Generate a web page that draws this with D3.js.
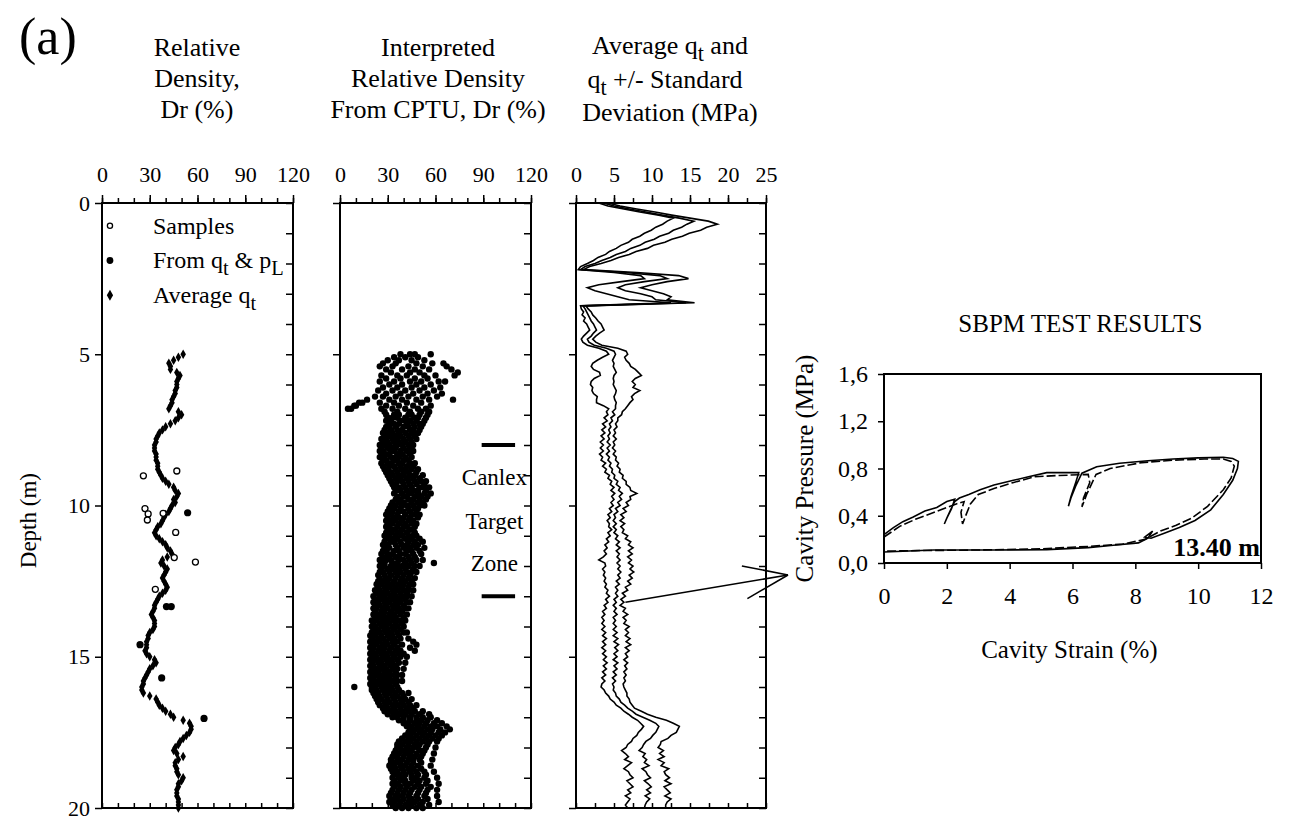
<!DOCTYPE html>
<html>
<head>
<meta charset="UTF-8"/>
<script src="https://d3js.org/d3.v7.min.js"></script>
<title>Canlex profile</title>
<style>
body { margin:0; background:#fff; }
text { font-family: "Liberation Serif", "Times New Roman", serif; fill:#000; }
.frame { fill:none; stroke:#000; stroke-width:2; }
.qline { fill:none; stroke:#000; stroke-width:1.6; }
</style>
</head>
<body>
<svg id="chart" width="1289" height="821"></svg>
<script>
'use strict';

// ---- axes / ticks
var depthTicks = [0, 5, 10, 15, 20];
var drTicks = [0, 30, 60, 90, 120];
var qtTicks = [0, 5, 10, 15, 20, 25];
var strainTicks = [0, 2, 4, 6, 8, 10, 12];
var pressTicks = [0, 0.4, 0.8, 1.2, 1.6];

// ---- panel 1 : relative density (depth m, Dr %)
// average qt points, every 0.1 m from 5.0 m
var avgQtStart = 5.0, avgQtStep = 0.1;
var avgQtDr = [
 "51 48 45 42 43 43 47 49 48 47",
 "47 47 46 46 45 44 44 43 42 48",
 "50 48 46 43 40 38 36 35 34 34",
 "33 33 33 34 34 34 35 35 35 36",
 "37 38 40 42 45 46 48 47 45 46",
 "44 43 42 40 39 38 37 35 34 33",
 "34 36 38 40 41 43 44 41 38 37",
 "39 41 40 39 38 39 40 41 40 38",
 "36 35 34 33 33 32 31 32 33 33",
 "33 32 30 29 29 28 28 28 27 28",
 "30 33 34 32 30 29 28 27 26 26",
 "25 25 26 30 34 35 36 38 40 43",
 "45 51 55 56 56 55 53 51 49 48",
 "46 45 47 51 48 46 46 47 47 48",
 "51 50 48 48 47 47 47 48 48 48",
 "48"];
var sampleDepth = [8.86, 9.02, 10.1, 10.28, 10.48, 10.26, 10.89, 11.72, 11.87, 12.77];
var sampleDr    = [47, 26, 27, 29, 28.5, 38.4, 46.3, 45.4, 58.7, 33.5];
var pLDepth = [10.24, 13.34, 13.34, 14.6, 15.7, 17.04];
var pLDr    = [53.8, 40.5, 43.5, 23.9, 37.5, 64.1];

// ---- panel 2 : Dr interpreted from CPTU ("depth  Dr Dr Dr ...")
var cptuRows = [
 "5.0 38 44 47 57", "5.1 34 41 49", "5.2 30 37 45 53",
 "5.3 27 35 48 58 65", "5.4 25 33 43 52 67", "5.5 29 39 47 56 70",
 "5.6 32 44 50 74", "5.7 26 36 42 53 60 72", "5.8 29 38 47 55",
 "5.9 25 34 44 51 62 66", "6.0 31 39 48 57", "6.1 27 36 45 53 63",
 "6.2 24 33 41 50 59", "6.3 29 38 46 55 64", "6.4 22 27 35 43 52 61",
 "6.5 17 31 39 48 56 71", "6.6 14 12 25 34 42 51", "6.7 9 10 29 37 46 57",
 "6.8 5 7 26 33 41 49 54", "6.9 28 36 44 51 56", "7.0 29 34 37 43 45 50 55",
 "7.1 30 33 36 41 47 49 54", "7.2 29 32 38 41 44 48 53", "7.3 31 34 37 42 46 50 52",
 "7.4 29 31 35 40 43 47 51", "7.5 28 32 36 39 44 46 50", "7.6 27 30 33 37 41 45 49",
 "7.7 28 31 35 38 43 47", "7.8 26 29 33 36 40 44 48", "7.9 27 30 34 37 41 45",
 "8.0 25 28 31 36 39 43 46", "8.1 26 30 33 35 40 44", "8.2 25 27 32 34 38 42 46",
 "8.3 26 29 31 36 39 44", "8.4 25 28 32 35 37 41 45", "8.5 27 29 34 36 40 43",
 "8.6 26 30 32 37 39 44 47", "8.7 27 31 34 38 42 46", "8.8 28 30 35 39 41 45 49",
 "8.9 29 32 36 40 43 48", "9.0 30 33 37 40 44 47 52", "9.1 31 35 38 42 46 50",
 "9.2 32 36 39 43 47 51 54", "9.3 33 35 40 44 48 53", "9.4 34 37 41 45 50 52 56",
 "9.5 35 38 42 46 49 54", "9.6 34 39 43 45 49 53 57", "9.7 36 40 42 47 51 55",
 "9.8 35 38 43 46 50 54", "9.9 33 37 40 45 49 52", "10.0 32 35 39 42 46 50 53",
 "10.1 31 34 38 43 47 49", "10.2 30 33 37 40 44 48", "10.3 29 32 36 41 45 47 50",
 "10.4 30 34 37 40 44 49", "10.5 29 32 35 39 43 46", "10.6 30 33 37 41 45 48",
 "10.7 29 31 36 40 42 47", "10.8 30 33 35 39 44 46", "10.9 29 32 36 38 42 47",
 "11.0 28 31 35 39 43 46 48", "11.1 29 33 36 41 45 50", "11.2 28 32 34 38 43 47 52",
 "11.3 27 30 35 39 42 46 49", "11.4 28 31 36 40 44 48 53", "11.5 27 29 34 37 42 45 50",
 "11.6 26 30 33 38 41 46 51", "11.7 27 31 35 37 43 47", "11.8 25 29 32 37 40 44 48 52",
 "11.9 26 28 33 36 41 45 59", "12.0 25 28 32 35 39 43 47 50", "12.1 26 30 33 37 41 46",
 "12.2 25 27 31 35 38 42 45 48", "12.3 24 28 32 36 40 44", "12.4 25 29 31 35 39 43 47",
 "12.5 24 27 30 34 38 41 45", "12.6 23 26 30 33 37 40 44 46", "12.7 24 28 31 35 39 43",
 "12.8 22 25 29 33 36 40 43 46", "12.9 23 27 30 34 38 42", "13.0 21 25 28 32 35 39 42 45",
 "13.1 22 26 29 33 37 41", "13.2 21 24 28 31 35 38 42 44", "13.3 22 25 29 33 36 40",
 "13.4 21 23 27 30 34 37 41 43", "13.5 22 26 28 32 36 39", "13.6 21 24 27 31 34 38 42",
 "13.7 22 25 29 32 35 40", "13.8 20 23 27 30 34 37 41", "13.9 21 25 28 31 35 39",
 "14.0 20 22 26 29 33 36 40", "14.1 21 24 28 30 34 38", "14.2 20 23 25 29 32 36 40 42",
 "14.3 19 22 26 30 33 37", "14.4 20 24 27 31 34 38 43", "14.5 19 22 25 29 33 36 46",
 "14.6 20 23 27 30 34 39 48", "14.7 19 21 25 28 32 36 44", "14.8 20 24 27 31 35 38 47",
 "14.9 19 22 26 29 33 37 40", "15.0 20 23 27 30 34 38 42", "15.1 19 22 25 29 32 36",
 "15.2 20 24 26 30 33 37 41", "15.3 19 21 25 28 32 35", "15.4 20 23 26 29 33 36 40",
 "15.5 19 22 24 28 31 35", "15.6 20 23 27 29 32 36 39", "15.7 19 21 25 28 31 35",
 "15.8 20 22 26 29 33 36 39", "15.9 19 23 25 28 31 35", "16.0 9 20 22 26 29 32 36",
 "16.1 20 23 27 30 33 37", "16.2 21 24 28 31 35 39 43", "16.3 22 25 29 33 36 40",
 "16.4 23 26 30 34 38 41 45", "16.5 24 28 31 35 39 43", "16.6 25 29 33 36 40 44 48",
 "16.7 27 30 34 38 42 46", "16.8 28 32 35 39 43 47 52", "16.9 30 34 37 41 45 50 56",
 "17.0 33 36 40 44 48 52 57", "17.1 37 40 44 48 51 55 61", "17.2 40 43 47 50 54 59 64",
 "17.3 42 45 49 53 57 61 67", "17.4 44 47 51 55 58 63 69", "17.5 43 46 50 53 57 62 66",
 "17.6 41 44 48 52 56 60 64", "17.7 39 43 46 50 54 58 62", "17.8 37 41 44 48 52 56 61",
 "17.9 36 39 43 47 50 55", "18.0 36 38 42 46 49 54 60", "18.1 35 39 42 45 50 53",
 "18.2 34 37 41 44 48 52 59", "18.3 33 36 40 44 47 51", "18.4 32 36 39 43 46 50 58",
 "18.5 32 35 38 42 46 51", "18.6 31 34 38 41 45 49 57", "18.7 32 35 39 43 46 51",
 "18.8 33 36 40 44 48 53 59", "18.9 34 37 41 45 49 54", "19.0 33 37 40 45 48 53 61",
 "19.1 34 38 41 46 50 55", "19.2 33 36 41 44 49 54 62", "19.3 34 38 42 47 51 57",
 "19.4 33 37 41 45 50 55 61", "19.5 32 36 40 44 49 54", "19.6 31 35 39 43 48 53 61",
 "19.7 32 36 40 45 49 55", "19.8 31 34 38 43 47 52 62", "19.9 33 37 41 45 50 56",
 "20.0 35 39 43 48 52"];
var zoneDepths = [8, 13];
var zoneDr = [89, 110];

// ---- panel 3 : qt (MPa), every 0.1 m from 0 m
var qtStep = 0.1;
var qtLow = [
 "3.0 4.2 6.3 8.4 10.9 12.8 12.0 11.4 10.5 9.9",
 "9.0 8.4 7.4 6.9 5.9 5.3 4.4 3.9 2.9 2.3",
 "1.5 0.6 0.3 5.0 8.5 9.0 6.0 3.0 1.5 2.5",
 "4.0 5.5 7.0 12.5 0.6 0.7 1.0 0.8 1.2 1.0",
 "1.4 1.6 1.8 1.4 1.0 0.7 0.9 1.5 3.0 4.0",
 "4.3 3.5 2.8 2.2 2.0 2.3 3.1 3.2 2.4 2.0",
 "1.9 2.2 2.1 2.3 2.8 2.7 2.7 3.6 4.3 4.0",
 "4.2 3.7 4.1 3.5 3.9 3.4 3.8 3.3 3.7 3.2",
 "3.6 3.2 3.6 3.1 3.5 3.3 3.9 3.5 4.0 3.8",
 "4.4 4.2 4.7 4.5 5.0 4.6 5.1 4.7 5.0 4.6",
 "4.9 4.4 4.7 4.2 4.5 4.1 4.4 4.3 4.7 4.2",
 "4.5 4.0 4.3 3.8 4.1 3.7 4.0 3.6 3.0 3.8",
 "3.9 3.5 3.8 3.6 3.9 3.7 4.0 3.8 4.2 4.0",
 "4.4 3.9 4.2 3.7 4.0 3.5 3.8 3.4 3.7 3.4",
 "3.8 3.4 3.9 3.5 4.0 3.5 3.9 3.4 3.9 3.5",
 "4.0 3.6 4.1 3.6 4.0 3.5 3.9 3.4 3.8 3.4",
 "3.3 3.7 3.9 4.3 4.5 5.0 5.3 5.9 6.3 6.9",
 "7.4 8.1 8.5 8.9 8.6 8.2 8.0 7.5 7.3 6.8",
 "6.6 6.0 6.5 6.9 6.4 7.3 6.8 6.3 6.9 7.1",
 "7.5 6.7 7.1 7.5 6.8 7.2 6.5 7.1 6.8 6.5",
 "6.8"];
var qtMean = [
 "3.6 5.0 7.0 9.2 11.3 13.6 15.5 14.6 13.9 12.8",
 "12.2 11.0 10.3 9.1 8.4 7.2 6.5 5.3 4.5 3.4",
 "2.5 1.2 0.6 6.5 11.0 12.0 9.0 6.5 5.5 6.5",
 "8.5 10.0 10.5 14.5 0.9 1.2 1.4 1.6 1.8 2.0",
 "2.3 2.5 2.7 2.3 2.0 1.5 1.7 2.4 4.0 5.0",
 "5.2 5.0 4.8 5.0 4.9 5.1 5.3 5.0 4.9 5.0",
 "4.9 5.1 5.3 5.2 5.0 5.1 5.3 5.2 5.2 4.8",
 "5.1 4.6 4.8 4.4 4.6 4.3 4.5 4.2 4.4 4.1",
 "4.5 4.1 4.4 4.0 4.4 4.2 4.6 4.4 4.8 4.7",
 "5.1 5.0 5.5 5.3 5.8 5.6 6.1 5.7 6.0 5.5",
 "5.8 5.2 5.5 5.0 5.2 4.9 5.3 4.9 5.3 5.0",
 "5.5 5.2 5.7 5.3 5.8 5.3 5.7 5.4 5.8 5.4",
 "5.8 5.5 5.9 5.5 5.8 5.3 5.7 5.2 5.5 5.2",
 "5.5 5.0 5.3 4.9 5.3 5.0 5.4 4.9 5.2 4.9",
 "5.3 4.9 5.4 4.9 5.5 5.0 5.6 5.1 5.5 5.0",
 "5.4 4.9 5.5 5.0 5.4 4.9 5.3 4.8 5.2 4.8",
 "5.0 4.9 5.2 5.3 5.7 5.9 6.4 6.8 7.4 7.9",
 "8.8 9.7 10.5 10.9 10.7 10.5 10.1 9.8 9.2 8.9",
 "8.7 8.3 9.1 8.8 9.3 9.0 9.6 8.7 9.2 9.4",
 "9.8 9.0 9.5 9.9 9.3 9.8 9.1 9.7 9.3 9.1",
 "9.0"];
var qtHigh = [
 "4.2 5.8 8.0 10.4 12.6 15.0 17.4 18.6 17.2 16.4",
 "14.9 14.0 12.6 11.7 10.2 9.4 7.9 7.0 5.6 4.6",
 "3.3 1.8 1.0 8.0 13.5 14.8 12.0 10.0 8.5 10.0",
 "11.5 12.5 12.0 15.6 1.3 1.6 2.0 2.2 2.6 2.9",
 "3.3 3.5 3.7 3.1 2.6 2.2 2.6 3.4 5.5 6.6",
 "6.8 6.4 6.6 7.0 7.2 7.8 8.2 8.6 7.8 7.4",
 "7.8 7.5 8.4 7.7 7.3 7.5 7.1 6.8 6.5 6.1",
 "6.0 5.5 5.5 5.2 5.4 5.0 5.2 4.9 5.3 4.9",
 "5.1 4.8 5.2 4.9 5.3 5.2 5.6 5.4 5.8 5.7",
 "6.2 6.1 6.6 6.6 7.1 7.2 8.0 7.1 7.2 6.6",
 "6.9 6.2 6.6 5.9 6.3 5.8 6.4 5.9 6.3 6.1",
 "6.8 6.5 7.2 6.9 7.5 6.9 7.4 6.8 7.3 6.9",
 "7.5 7.1 7.6 7.0 7.4 6.8 7.2 6.5 6.8 6.1",
 "6.5 5.9 6.3 5.8 6.5 6.2 6.8 6.2 6.6 6.3",
 "7.0 6.5 6.9 6.5 7.1 6.6 7.2 6.5 7.0 6.5",
 "6.8 6.3 6.8 6.4 6.7 6.3 6.6 6.3 6.5 6.2",
 "6.3 6.5 6.7 6.7 7.0 7.1 7.4 7.7 8.6 9.4",
 "10.5 11.9 12.8 13.6 13.4 13.2 12.5 12.1 11.2 11.1",
 "10.8 11.5 11.0 11.6 10.8 11.6 11.2 12.2 11.6 11.8",
 "12.3 11.7 12.5 11.6 12.0 12.4 11.7 12.5 12.0 11.8",
 "11.8"];
var sbpmDepth = 13.2, sbpmQt = 6.5;

// ---- SBPM test at 13.40 m (strain %, pressure MPa), two strain arms
var armAStrain = [0, 0.3, 0.6, 0.93, 1.3, 1.68, 2.0, 2.25, 2.15, 2.0, 1.92, 2.0, 2.12, 2.25, 2.4, 2.7, 3.06, 3.5,
  4.12, 4.6, 5.18, 5.7, 6.2, 6.1, 5.95, 5.87, 5.95, 6.1, 6.3, 6.77, 7.5, 8.4, 9.2, 10.0, 10.8, 11.1, 11.28,
  11.25, 11.1, 10.8, 10.4, 9.9, 9.4, 8.9, 8.5, 8.3, 8.55, 8.4, 8.1, 7.3, 6.5, 5.18, 3.5, 1.57, 0.6, 0];
var armAPress = [0.24, 0.30, 0.35, 0.39, 0.44, 0.47, 0.52, 0.54, 0.46, 0.38, 0.33, 0.38, 0.45, 0.52, 0.55, 0.58, 0.62, 0.66,
  0.70, 0.73, 0.765, 0.765, 0.765, 0.68, 0.56, 0.48, 0.55, 0.65, 0.76, 0.815, 0.845, 0.865, 0.88, 0.89, 0.895, 0.885, 0.86,
  0.80, 0.70, 0.58, 0.45, 0.36, 0.30, 0.25, 0.21, 0.22, 0.27, 0.21, 0.17, 0.15, 0.13, 0.113, 0.11, 0.11, 0.10, 0.093];
var armBStrain = [0, 0.5, 1.0, 1.7, 2.3, 2.55, 2.45, 2.5, 2.6, 2.75, 3.0, 3.5, 4.1, 4.8, 5.5, 6.5, 6.55, 6.35, 6.3,
  6.45, 6.75, 7.2, 8.2, 9.2, 10.2, 10.8, 11.05, 11.15, 11.05, 10.8, 10.3, 9.8, 9.3, 8.8, 8.3, 7.6, 6.5, 5.0, 3.0, 1.0, 0];
var armBPress = [0.22, 0.31, 0.37, 0.44, 0.50, 0.52, 0.43, 0.33, 0.40, 0.50, 0.58, 0.63, 0.68, 0.73, 0.74, 0.75, 0.68, 0.55, 0.475,
  0.58, 0.75, 0.80, 0.85, 0.87, 0.88, 0.88, 0.86, 0.82, 0.72, 0.62, 0.48, 0.38, 0.32, 0.27, 0.20, 0.16, 0.14, 0.12, 0.11, 0.105, 0.10];

function nums(rows){
	return rows.join(' ').split(/\s+/).map(Number);
}

var svg = d3.select('#chart');
var FONT = '"Liberation Serif", "Times New Roman", serif';

var sy  = d3.scaleLinear().domain([0, 20]).range([203, 808]);
var sxA = d3.scaleLinear().domain([0, 120]).range([102, 293]);
var sxB = d3.scaleLinear().domain([0, 120]).range([340, 531]);
var sxC = d3.scaleLinear().domain([0, 25]).range([576, 766]);

function styleAxis(size){
	return function(g){
		g.select('.domain').remove();
		g.selectAll('.tick line').attr('stroke', '#000').attr('stroke-width', 1.5);
		g.selectAll('text').attr('font-size', size).attr('font-family', FONT).attr('fill', '#000');
	};
}

function depthPanel(sx, majors, minors, showDepth){
	var x0 = sx.range()[0], x1 = sx.range()[1];
	svg.append('g').attr('transform', 'translate(0,' + sy(0) + ')')
		.call(d3.axisTop(sx).tickValues(minors).tickSize(5).tickFormat(''))
		.call(styleAxis(22));
	svg.append('g').attr('transform', 'translate(0,' + sy(0) + ')')
		.call(d3.axisTop(sx).tickValues(majors).tickSize(8).tickPadding(13).tickFormat(d3.format('d')))
		.call(styleAxis(22));
	svg.append('g').attr('transform', 'translate(0,' + sy(20) + ')')
		.call(d3.axisTop(sx).tickValues(minors).tickSize(5).tickFormat(''))
		.call(styleAxis(22));
	var left = d3.axisLeft(sy).tickValues(depthTicks).tickSize(7).tickPadding(5);
	if (!showDepth) left.tickFormat('');
	svg.append('g').attr('transform', 'translate(' + x0 + ',0)').call(left).call(styleAxis(22));
	svg.append('g').attr('transform', 'translate(' + x1 + ',0)')
		.call(d3.axisLeft(sy).tickValues(d3.range(0, 21)).tickSize(7).tickFormat(''))
		.call(styleAxis(22));
	svg.append('rect').attr('class', 'frame')
		.attr('x', x0).attr('y', sy(0))
		.attr('width', x1 - x0).attr('height', sy(20) - sy(0));
}

// text with subscripts: parts = [[str, isSub], ...]
function richText(x, y, parts, size, anchor){
	var t = svg.append('text').attr('x', x).attr('y', y)
		.attr('font-size', size).attr('text-anchor', anchor || 'middle');
	var shift = 0;
	parts.forEach(function(p){
		var want = p[1] ? Math.round(size * 0.28) : 0;
		t.append('tspan').text(p[0])
			.attr('dy', want - shift)
			.attr('font-size', p[1] ? size * 0.85 : size);
		shift = want;
	});
	return t;
}

// ---- titles
svg.append('text').attr('x', 19).attr('y', 54).attr('font-size', 52).text('(a)');

[['Relative', 56], ['Density,', 87], ['Dr (%)', 118]].forEach(function(l){
	svg.append('text').attr('x', 197).attr('y', l[1]).attr('font-size', 26)
		.attr('text-anchor', 'middle').text(l[0]);
});
[['Interpreted', 56], ['Relative Density', 87], ['From CPTU, Dr (%)', 118]].forEach(function(l){
	svg.append('text').attr('x', 438).attr('y', l[1]).attr('font-size', 26)
		.attr('text-anchor', 'middle').text(l[0]);
});
richText(670, 54, [['Average q', false], ['t', true], [' and', false]], 26);
richText(665, 88, [['q', false], ['t', true], [' +/- Standard', false]], 26);
svg.append('text').attr('x', 670).attr('y', 121).attr('font-size', 26)
	.attr('text-anchor', 'middle').text('Deviation  (MPa)');

svg.append('text').attr('transform', 'translate(36,' + sy(10.5) + ') rotate(-90)')
	.attr('font-size', 23).attr('text-anchor', 'middle').text('Depth (m)');

// ---- panel frames
depthPanel(sxA, drTicks, d3.range(0, 121, 10), true);
depthPanel(sxB, drTicks, d3.range(0, 121, 10), false);
depthPanel(sxC, qtTicks, d3.range(0, 25.1, 2.5), false);

// ---- panel 1 data
var avgVals = nums(avgQtDr);
svg.append('g').selectAll('path').data(avgVals).enter().append('path')
	.attr('d', d3.symbol().type(d3.symbolDiamond).size(26))
	.attr('transform', function(d, i){
		return 'translate(' + sxA(d) + ',' + sy(avgQtStart + i * avgQtStep) + ')';
	});
svg.append('g').selectAll('circle').data(pLDr).enter().append('circle')
	.attr('cx', function(d){ return sxA(d); })
	.attr('cy', function(d, i){ return sy(pLDepth[i]); })
	.attr('r', 3.6).attr('fill', '#000');
svg.append('g').selectAll('circle').data(sampleDr).enter().append('circle')
	.attr('cx', function(d){ return sxA(d); })
	.attr('cy', function(d, i){ return sy(sampleDepth[i]); })
	.attr('r', 3).attr('fill', '#fff').attr('stroke', '#000').attr('stroke-width', 1.3);

// legend
var legend = [
	{ y: 0.75, sym: 'open', parts: [['Samples', false]] },
	{ y: 1.9, sym: 'big', parts: [['From q', false], ['t', true], [' & p', false], ['L', true]] },
	{ y: 3.05, sym: 'avg', parts: [['Average q', false], ['t', true]] }
];
legend.forEach(function(l){
	var cx = sxA(5), cy = sy(l.y);
	if (l.sym === 'open')
		svg.append('circle').attr('cx', cx).attr('cy', cy).attr('r', 2.6)
			.attr('fill', '#fff').attr('stroke', '#000').attr('stroke-width', 1.3);
	else if (l.sym === 'big')
		svg.append('circle').attr('cx', cx).attr('cy', cy).attr('r', 3.4).attr('fill', '#000');
	else
		svg.append('path').attr('d', d3.symbol().type(d3.symbolDiamond).size(34))
			.attr('transform', 'translate(' + cx + ',' + cy + ')');
	richText(sxA(32), cy + 8, l.parts, 24, 'start');
});

// ---- panel 2 data
var cloud = [];
cptuRows.forEach(function(r){
	var v = r.split(' ').map(Number);
	for (var k = 1; k < v.length; k++) cloud.push({ depth: v[0], dr: v[k] });
});
svg.append('g').selectAll('circle').data(cloud).enter().append('circle')
	.attr('cx', function(d){ return sxB(d.dr); })
	.attr('cy', function(d){ return sy(d.depth); })
	.attr('r', 3.2).attr('fill', '#000');

zoneDepths.forEach(function(z){
	svg.append('line').attr('x1', sxB(zoneDr[0])).attr('x2', sxB(zoneDr[1]))
		.attr('y1', sy(z)).attr('y2', sy(z)).attr('stroke', '#000').attr('stroke-width', 4);
});
[['Canlex', 9.05], ['Target', 10.5], ['Zone', 11.9]].forEach(function(l){
	svg.append('text').attr('x', sxB(97)).attr('y', sy(l[1]) + 8)
		.attr('font-size', 23).attr('text-anchor', 'middle').text(l[0]);
});

// ---- panel 3 data
var qLine = d3.line()
	.x(function(d){ return sxC(d); })
	.y(function(d, i){ return sy(i * qtStep); });
[qtLow, qtMean, qtHigh].forEach(function(s){
	svg.append('path').attr('class', 'qline').attr('d', qLine(nums(s)));
});

// ---- SBPM panel
var sxS = d3.scaleLinear().domain([0, 12]).range([884, 1261]);
var syS = d3.scaleLinear().domain([0, 1.6]).range([563, 374]);

svg.append('g').attr('transform', 'translate(0,' + syS(0) + ')')
	.call(d3.axisBottom(sxS).tickValues(strainTicks).tickSize(6).tickPadding(18).tickFormat(d3.format('d')))
	.call(styleAxis(24));
svg.append('g').attr('transform', 'translate(' + sxS(0) + ',0)')
	.call(d3.axisLeft(syS).tickValues(pressTicks).tickSize(6).tickPadding(10)
		.tickFormat(function(d){ return d3.format('.1f')(d).replace('.', ','); }))
	.call(styleAxis(24));
svg.append('rect').attr('class', 'frame')
	.attr('x', sxS(0)).attr('y', syS(1.6))
	.attr('width', sxS(12) - sxS(0)).attr('height', syS(0) - syS(1.6));

var sLine = d3.line().curve(d3.curveLinear);
svg.append('path').attr('class', 'qline')
	.attr('d', sLine(armAStrain.map(function(s, i){ return [sxS(s), syS(armAPress[i])]; })));
svg.append('path').attr('class', 'qline').attr('stroke-dasharray', '9 3')
	.attr('d', sLine(armBStrain.map(function(s, i){ return [sxS(s), syS(armBPress[i])]; })));

svg.append('text').attr('x', sxS(6.25)).attr('y', 332).attr('font-size', 25)
	.attr('text-anchor', 'middle').text('SBPM TEST RESULTS');
svg.append('text').attr('x', sxS(5.9)).attr('y', 658).attr('font-size', 25)
	.attr('text-anchor', 'middle').text('Cavity Strain (%)');
svg.append('text').attr('transform', 'translate(813,' + syS(0.8) + ') rotate(-90)')
	.attr('font-size', 25).attr('text-anchor', 'middle').text('Cavity Pressure (MPa)');
svg.append('text').attr('x', sxS(12) - 1).attr('y', syS(0) - 7).attr('font-size', 26)
	.attr('font-weight', 'bold').attr('text-anchor', 'end').text('13.40 m');

// ---- arrow from the qt profile to the SBPM curve
var tail = [sxC(sbpmQt), sy(sbpmDepth)];
var tip = [sxS(0) - 96, syS(0) + 12];
svg.append('line').attr('x1', tail[0]).attr('y1', tail[1]).attr('x2', tip[0]).attr('y2', tip[1])
	.attr('stroke', '#000').attr('stroke-width', 1.6);
var ang = Math.atan2(tail[1] - tip[1], tail[0] - tip[0]);
[-0.36, 0.36].forEach(function(a){
	svg.append('line').attr('x1', tip[0]).attr('y1', tip[1])
		.attr('x2', tip[0] + 47 * Math.cos(ang + a)).attr('y2', tip[1] + 47 * Math.sin(ang + a))
		.attr('stroke', '#000').attr('stroke-width', 1.6);
});
</script>
</body>
</html>
